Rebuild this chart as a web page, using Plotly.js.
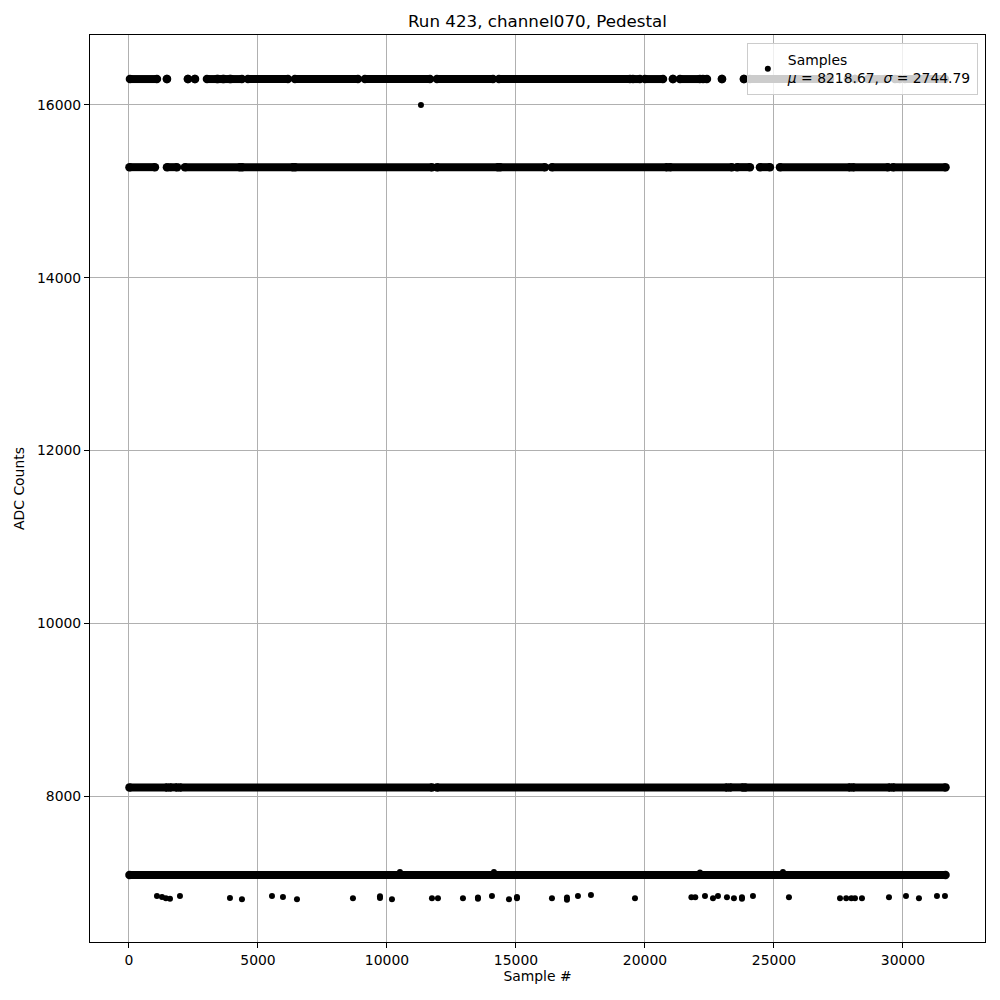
<!DOCTYPE html>
<html>
<head>
<meta charset="utf-8">
<script src="https://cdn.plot.ly/plotly-3.0.1.min.js"></script>
<style>html,body{margin:0;padding:0;background:#fff;}#chart{width:1000px;height:1000px;}</style>
</head>
<body>
<div id="chart"></div>
<script>
// ---- Data (sample numbers / ADC counts) ----
// Dense bands: runs of consecutive samples [start, end] at a given ADC level
const band16300Level = 16300;
const band16300Start = [39, 1473, 2287, 2558, 3023, 3450, 3680, 3950, 4612, 6434, 9147, 11938, 14341, 19535, 20000, 21085, 21357, 22248, 22985, 23837, 24070, 27868, 28140, 28644, 29690, 30078];
const band16300End   = [1085, 1473, 2287, 2558, 3410, 3640, 3910, 4380, 6163, 8876, 11667, 14109, 19419, 19806, 20698, 21085, 22132, 22403, 22985, 23837, 27171, 27868, 28140, 29303, 29884, 31628];

const band15280Level = 15280;
const band15280Start = [20, 1473, 2171, 4380, 6434, 11938, 14380, 16395, 20969, 23566, 24458, 25233, 28062, 29613];
const band15280End   = [1008, 1860, 4302, 6357, 11744, 14302, 16124, 20853, 23372, 24070, 24845, 27946, 29419, 31650];

const band8100Level = 8100;
const band8100Start = [20, 1589, 1977, 11938, 23294, 23876, 28062, 29613];
const band8100End   = [1473, 1860, 11744, 23178, 23798, 27946, 29496, 31650];

const band7085Level = 7085;
const band7085Start = [20];
const band7085End   = [31650];

// Sparse samples (individual points)
const sparseX = [1085, 1280, 1430, 1590, 1977, 3915, 4380, 5543, 5969, 6512, 8682, 9729, 9729, 10194, 11744, 11977, 12946, 13527, 13527, 14070, 14729, 15039, 15039, 16395, 16977, 16977, 17403, 17907, 19613, 21800, 21950, 22326, 22636, 22830, 23178, 23449, 23760, 23760, 24186, 25581, 27560, 27800, 28000, 28140, 28411, 29458, 30117, 30620, 31318, 31628,
                 10504, 14147, 22132, 25349,
                 11318];
const sparseY = [6842, 6830, 6816, 6810, 6842, 6820, 6804, 6842, 6830, 6804, 6816, 6840, 6820, 6804, 6816, 6816, 6816, 6810, 6825, 6842, 6804, 6830, 6816, 6816, 6800, 6825, 6842, 6854, 6816, 6827, 6827, 6842, 6816, 6842, 6827, 6816, 6827, 6810, 6842, 6827, 6816, 6816, 6816, 6816, 6816, 6827, 6842, 6816, 6842, 6842,
                 7120, 7120, 7115, 7120,
                 16000];

const xTicks = [0, 5000, 10000, 15000, 20000, 25000, 30000];
const yTicks = [8000, 10000, 12000, 14000, 16000];
const legendLabel = 'Samples<br><i>μ</i> = 8218.67, <i>σ</i> = 2744.79';
const titleText = 'Run 423, channel070, Pedestal';

// ---- Build traces ----
function bandTrace(level, starts, ends) {
  const x = [], y = [];
  for (let i = 0; i < starts.length; i++) {
    x.push(starts[i], ends[i], null);
    y.push(level, level, null);
  }
  return {
    type: 'scatter', mode: 'lines+markers', x: x, y: y,
    line: {color: '#000000', width: 8},
    marker: {color: '#000000', size: 8.5},
    connectgaps: false, showlegend: false, hoverinfo: 'skip'
  };
}

const traces = [
  bandTrace(band16300Level, band16300Start, band16300End),
  bandTrace(band15280Level, band15280Start, band15280End),
  bandTrace(band8100Level, band8100Start, band8100End),
  bandTrace(band7085Level, band7085Start, band7085End),
  {
    type: 'scatter', mode: 'markers', x: sparseX, y: sparseY,
    marker: {color: '#000000', size: 6},
    name: legendLabel, showlegend: true
  }
];

const font = {family: 'DejaVu Sans, sans-serif', size: 13.9, color: '#000'};

const layout = {
  width: 1000, height: 1000,
  paper_bgcolor: '#ffffff', plot_bgcolor: '#ffffff',
  font: font,
  margin: {l: 90, r: 15, t: 35, b: 58},
  title: {text: titleText, font: {family: 'DejaVu Sans, sans-serif', size: 16.7, color: '#000'},
          x: 0.5375, xanchor: 'center', y: 0.979, yanchor: 'middle', xref: 'container'},
  xaxis: {
    range: [-1510, 33180], tickvals: xTicks, tickformat: 'd',
    title: {text: 'Sample #', font: font, standoff: 4},
    showgrid: true, gridcolor: '#b0b0b0', gridwidth: 1,
    showline: true, mirror: true, linecolor: '#000', linewidth: 1,
    ticks: 'outside', ticklen: 5, tickcolor: '#000', zeroline: false,
    automargin: false
  },
  yaxis: {
    range: [6310, 16810], tickvals: yTicks, tickformat: 'd',
    title: {text: 'ADC Counts', font: font, standoff: 9},
    showgrid: true, gridcolor: '#b0b0b0', gridwidth: 1,
    showline: true, mirror: true, linecolor: '#000', linewidth: 1,
    ticks: 'outside', ticklen: 5, tickcolor: '#000', zeroline: false,
    automargin: false
  },
  legend: {
    x: 0.992, y: 0.991, xanchor: 'right', yanchor: 'top',
    bgcolor: 'rgba(255,255,255,0.8)', bordercolor: '#cccccc', borderwidth: 1,
    font: font
  },
  showlegend: true
};

Plotly.newPlot('chart', traces, layout, {displayModeBar: false, staticPlot: true});
</script>
</body>
</html>
